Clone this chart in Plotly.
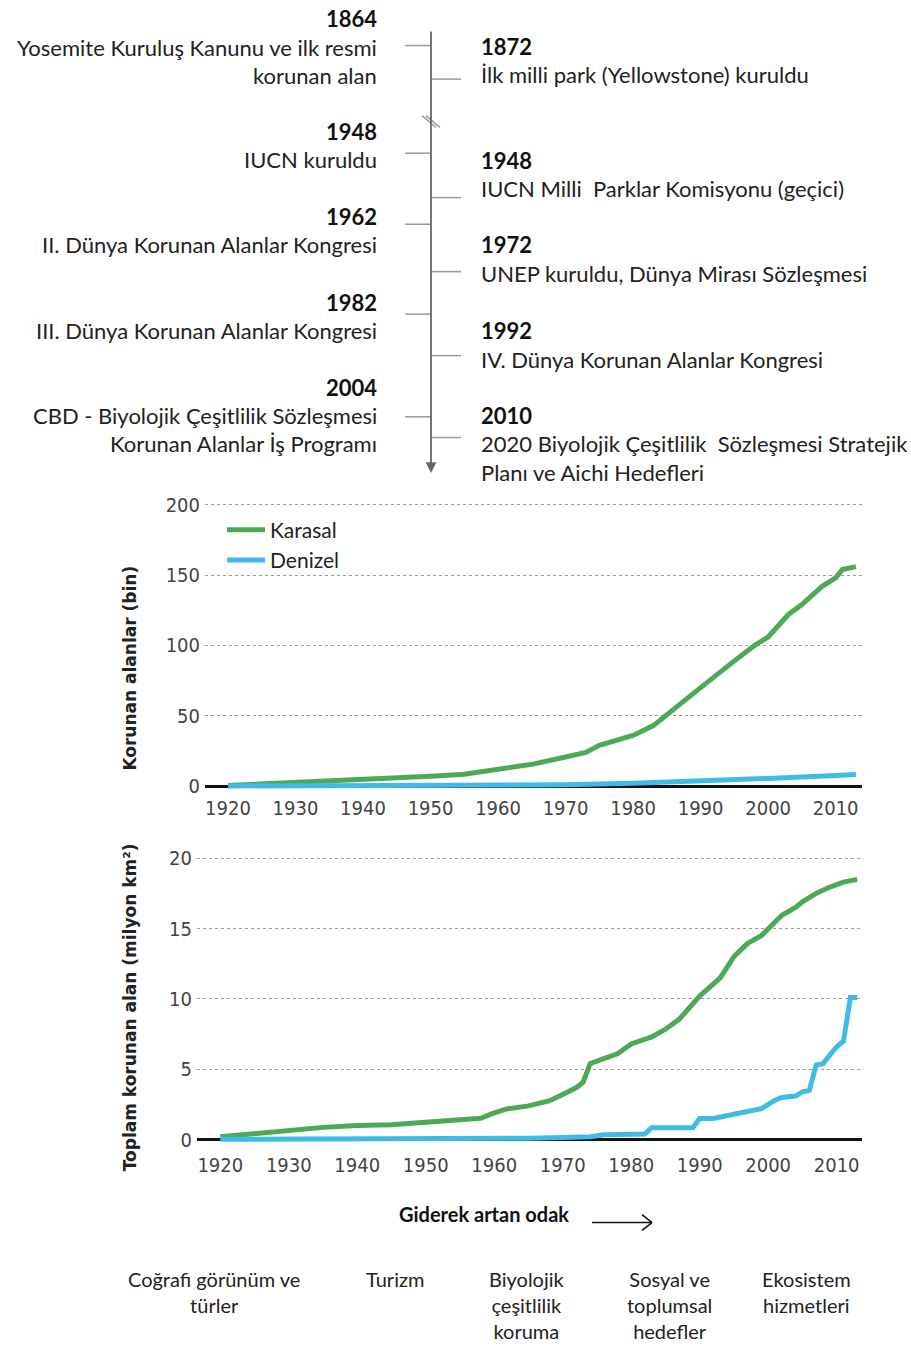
import plotly.graph_objects as go

W, H = 911, 1351

# ---------------- data ----------------
years_count_land = [1920, 1925, 1930, 1935, 1940, 1945, 1950, 1955, 1960, 1965, 1970, 1973, 1975,
                    1980, 1983, 1985, 1990, 1995, 1998, 2000, 2003, 2005, 2008, 2010, 2011, 2013]
count_land = [0.5, 1.5, 2.3, 3.5, 4.7, 6.0, 7.0, 8.5, 11.8, 15.5, 20.7, 24.0, 29.0,
              36.0, 43.0, 51.0, 70.0, 89.0, 100.0, 106.0, 122.0, 129.0, 142.0, 148.0, 154.0, 156.0]
years_count_marine = [1920, 1940, 1960, 1970, 1980, 1990, 2000, 2010, 2013]
count_marine = [0.1, 0.3, 0.6, 1.0, 2.0, 3.5, 5.5, 7.5, 8.2]

years_area_land = [1920, 1925, 1930, 1935, 1940, 1945, 1950, 1955, 1958, 1960, 1962, 1965, 1968,
                   1970, 1972, 1973, 1974, 1976, 1978, 1980, 1983, 1985, 1987, 1990, 1992, 1993,
                   1995, 1997, 1999, 2000, 2002, 2004, 2005, 2007, 2009, 2011, 2013]
area_land = [0.2, 0.42, 0.65, 0.87, 1.0, 1.05, 1.24, 1.4, 1.52, 1.9, 2.2, 2.4, 2.75,
             3.2, 3.7, 4.1, 5.4, 5.75, 6.1, 6.8, 7.3, 7.85, 8.55, 10.2, 11.1, 11.5,
             13.0, 13.95, 14.5, 15.0, 15.95, 16.5, 16.9, 17.5, 17.95, 18.3, 18.5]
years_area_marine = [1920, 1963, 1965, 1970, 1974, 1976, 1982, 1983, 1989, 1990, 1992, 1995, 1999,
                     2001, 2002, 2004, 2005, 2006, 2007, 2008, 2010, 2011, 2012, 2013]
area_marine = [0.02, 0.02, 0.1, 0.15, 0.2, 0.35, 0.4, 0.85, 0.85, 1.5, 1.5, 1.8, 2.2,
               2.8, 3.0, 3.1, 3.4, 3.5, 5.3, 5.4, 6.6, 7.0, 10.1, 10.1]

series_names = ["Karasal", "Denizel"]
x_ticks = [1920, 1930, 1940, 1950, 1960, 1970, 1980, 1990, 2000, 2010]
y_ticks_count = [0, 50, 100, 150, 200]
y_ticks_area = [0, 5, 10, 15, 20]
y_title_count = "Korunan alanlar (bin)"
y_title_area = "Toplam korunan alan (milyon km²)"

left_years = ["1864", "1948", "1962", "1982", "2004"]
left_texts = [["Yosemite Kuruluş Kanunu ve ilk resmi", "korunan alan"],
              ["IUCN kuruldu"],
              ["II. Dünya Korunan Alanlar Kongresi"],
              ["III. Dünya Korunan Alanlar Kongresi"],
              ["CBD - Biyolojik Çeşitlilik Sözleşmesi", "Korunan Alanlar İş Programı"]]
right_years = ["1872", "1948", "1972", "1992", "2010"]
right_texts = [["İlk milli park (Yellowstone) kuruldu"],
               ["IUCN Milli  Parklar Komisyonu (geçici)"],
               ["UNEP kuruldu, Dünya Mirası Sözleşmesi"],
               ["IV. Dünya Korunan Alanlar Kongresi"],
               ["2020 Biyolojik Çeşitlilik  Sözleşmesi Stratejik", "Planı ve Aichi Hedefleri"]]

focus_title = "Giderek artan odak"
focus_categories = ["Coğrafi görünüm ve<br>türler", "Turizm", "Biyolojik<br>çeşitlilik<br>koruma",
                    "Sosyal ve<br>toplumsal<br>hedefler", "Ekosistem<br>hizmetleri"]

# ---------------- styling ----------------
GREEN = "#4caa55"
BLUE = "#3fbbe6"
TL_FONT = "Lato, 'Open Sans', sans-serif"
TICK_FONT = "'Liberation Sans Narrow', 'DejaVu Sans Condensed', 'Liberation Sans', sans-serif"
TITLE_FONT = "'DejaVu Sans', Verdana, sans-serif"
TL_SIZE = 22
TEXT_DY = -7


def px(x):
    return x / W


def py(y):
    return 1 - y / H


fig = go.Figure()

fig.add_trace(go.Scatter(x=years_count_land, y=count_land, mode="lines", name=series_names[0],
                         line=dict(color=GREEN, width=5), xaxis="x", yaxis="y"))
fig.add_trace(go.Scatter(x=years_count_marine, y=count_marine, mode="lines", name=series_names[1],
                         line=dict(color=BLUE, width=5), xaxis="x", yaxis="y"))
fig.add_trace(go.Scatter(x=years_area_land, y=area_land, mode="lines", name=series_names[0],
                         line=dict(color=GREEN, width=5), xaxis="x2", yaxis="y2", showlegend=False))
fig.add_trace(go.Scatter(x=years_area_marine, y=area_marine, mode="lines", name=series_names[1],
                         line=dict(color=BLUE, width=5), xaxis="x2", yaxis="y2", showlegend=False))

axis_common = dict(showline=False, ticks="", tickfont=dict(family=TICK_FONT, size=20, color="#444"))

# top plot: 1920 at x=228, 2010 at x=836; 200 at y=502, 0 at y=787
fig.update_layout(
    xaxis=dict(domain=[px(205), px(862)], range=[1916.6, 2013.9], tickvals=x_ticks,
               showgrid=False, zeroline=False, anchor="y", ticklabelstandoff=4, **axis_common),
    yaxis=dict(domain=[py(791.3), py(499.2)], range=[-3, 202], tickvals=y_ticks_count,
               showgrid=True, gridcolor="#999", griddash="dot", gridwidth=1, ticklabelstandoff=4,
               zeroline=True, zerolinecolor="#111", zerolinewidth=3, anchor="x", **axis_common),
    xaxis2=dict(domain=[px(197), px(862)], range=[1916.6, 2013.7], tickvals=x_ticks,
                showgrid=False, zeroline=False, anchor="y2", ticklabelstandoff=7, **axis_common),
    yaxis2=dict(domain=[py(1149.3), py(857.2)], range=[-0.3, 20.2], tickvals=y_ticks_area,
                showgrid=True, gridcolor="#999", griddash="dot", gridwidth=1, ticklabelstandoff=4,
                zeroline=True, zerolinecolor="#111", zerolinewidth=3, anchor="x2", **axis_common),
)

annotations = []
shapes = []

# y-axis titles
annotations.append(dict(x=px(130), y=py(668), xref="paper", yref="paper", text=y_title_count,
                        textangle=-90, showarrow=False, xanchor="center", yanchor="middle",
                        font=dict(family=TITLE_FONT, size=17, color="#222", weight="bold")))
annotations.append(dict(x=px(130), y=py(1011), xref="paper", yref="paper", text=y_title_area,
                        textangle=-90, showarrow=False, xanchor="center", yanchor="middle",
                        font=dict(family=TITLE_FONT, size=17, color="#222", weight="bold")))

# ---------------- timeline ----------------
LINE_X = 431
annotations.append(dict(x=px(LINE_X), y=py(470), xref="paper", yref="paper",
                        ax=0, ay=27 - 470, axref="pixel", ayref="pixel",
                        showarrow=True, arrowhead=2, arrowsize=1.2, arrowwidth=1.8,
                        arrowcolor="#666", text=""))
for dx in (-2, 2):
    shapes.append(dict(type="line", xref="paper", yref="paper",
                       x0=px(424 + dx), y0=py(108), x1=px(438 + dx), y1=py(120),
                       line=dict(color="#999", width=1.5)))

left_tick_y = [37, 146, 218, 309, 413]
right_tick_y = [71, 191, 266, 351, 434]
for ty in left_tick_y:
    shapes.append(dict(type="line", xref="paper", yref="paper", x0=px(405), x1=px(LINE_X),
                       y0=py(ty), y1=py(ty), line=dict(color="#999", width=1.5)))
for ty in right_tick_y:
    shapes.append(dict(type="line", xref="paper", yref="paper", x0=px(LINE_X), x1=px(461),
                       y0=py(ty), y1=py(ty), line=dict(color="#999", width=1.5)))

left_year_y = [17, 131, 217, 304, 390]
right_year_y = [45, 160, 246, 333, 419]
LINE_GAP = 28.5
for yr, lines, yy in zip(left_years, left_texts, left_year_y):
    annotations.append(dict(x=px(379), y=py(yy + TEXT_DY), xref="paper", yref="paper", text="<b>%s</b>" % yr,
                            showarrow=False, xanchor="right", yanchor="middle",
                            font=dict(family=TL_FONT, size=TL_SIZE, color="#111")))
    for i, t in enumerate(lines):
        annotations.append(dict(x=px(379), y=py(yy + TEXT_DY + LINE_GAP * (i + 1)), xref="paper", yref="paper",
                                text=t, showarrow=False, xanchor="right", yanchor="middle",
                                font=dict(family=TL_FONT, size=TL_SIZE, color="#222")))
for yr, lines, yy in zip(right_years, right_texts, right_year_y):
    annotations.append(dict(x=px(479), y=py(yy + TEXT_DY), xref="paper", yref="paper", text="<b>%s</b>" % yr,
                            showarrow=False, xanchor="left", yanchor="middle",
                            font=dict(family=TL_FONT, size=TL_SIZE, color="#111")))
    for i, t in enumerate(lines):
        annotations.append(dict(x=px(479), y=py(yy + TEXT_DY + LINE_GAP * (i + 1)), xref="paper", yref="paper",
                                text=t, showarrow=False, xanchor="left", yanchor="middle",
                                font=dict(family=TL_FONT, size=TL_SIZE, color="#222")))

# ---------------- bottom focus strip ----------------
annotations.append(dict(x=px(484), y=py(1220), xref="paper", yref="paper",
                        text="<b>%s</b>" % focus_title,
                        showarrow=False, xanchor="center", yanchor="middle",
                        font=dict(family=TL_FONT, size=20, color="#111")))
# open arrow (→)
shapes.append(dict(type="line", xref="paper", yref="paper", x0=px(592), x1=px(652),
                   y0=py(1229), y1=py(1229), line=dict(color="#111", width=1.6)))
for dy in (-8, 8):
    shapes.append(dict(type="line", xref="paper", yref="paper", x0=px(642), x1=px(652),
                       y0=py(1229 + dy), y1=py(1229), line=dict(color="#111", width=1.6)))

cat_x = [214, 395, 527, 669, 806]
for cx, c in zip(cat_x, focus_categories):
    annotations.append(dict(x=px(cx), y=py(1272), xref="paper", yref="paper", text=c,
                            showarrow=False, xanchor="center", yanchor="top", align="center",
                            font=dict(family=TL_FONT, size=20, color="#222")))

fig.update_layout(
    width=W, height=H, margin=dict(l=0, r=0, t=0, b=0),
    paper_bgcolor="white", plot_bgcolor="white",
    annotations=annotations, shapes=shapes,
    legend=dict(x=px(222), y=py(507), xanchor="left", yanchor="top", bgcolor="rgba(0,0,0,0)",
                font=dict(family=TL_FONT, size=21, color="#222"), itemwidth=38, tracegroupgap=0),
    showlegend=True,
)

fig.write_html("out.html", config={"displayModeBar": False},
               post_script="document.body.style.margin='0';")
